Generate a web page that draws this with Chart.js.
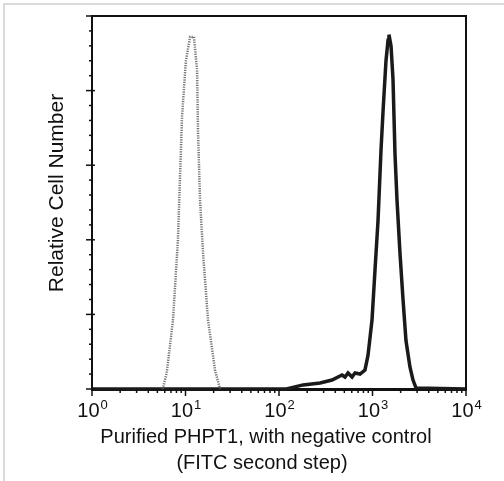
<!DOCTYPE html>
<html>
<head>
<meta charset="utf-8">
<script src="https://cdn.jsdelivr.net/npm/chart.js@4/dist/chart.umd.min.js"></script>
<style>
  body { margin: 0; background: #fff; }
  #wrap { position: relative; width: 504px; height: 481px; overflow: hidden; }
  #frame { position: absolute; left: 3px; top: 3px; right: 0; bottom: 0;
           border-top: 2px solid #dadada; border-left: 2px solid #dadada; }
  #myChart { position: absolute; left: 0; top: 0; }
</style>
</head>
<body>
<div id="wrap">
  <div id="frame"></div>
  <canvas id="myChart" width="504" height="481"></canvas>
</div>
<script>
// negative control (gray dotted) histogram
const controlX = [5.7, 6.3, 7.35, 8.3, 9.18, 10.1, 11.2, 12.3, 13.3, 13.6, 14.3, 15.4, 17.4, 20.7, 23.4];
const controlY = [0, 4.3, 18.5, 40, 73, 88, 94.4, 94.4, 85.5, 69.4, 50.7, 36.5, 18.5, 5, 0];
// purified PHPT1 (black) histogram
const sampleX = [1, 120, 181, 275, 369, 472, 508, 547, 604, 650, 735, 831, 895, 988, 1064, 1145, 1233, 1300, 1394, 1466, 1500, 1578, 1657, 1740, 1828, 1967, 2120, 2280, 2515, 2712, 2917, 10000];
const sampleY = [0, 0, 1.1, 1.6, 2.4, 3.75, 3.2, 4.3, 3.2, 4.3, 4.0, 5.1, 9, 18.5, 32, 45, 64, 75, 88, 93.5, 95, 92, 83, 63, 50.7, 36.5, 24, 13, 5.9, 2.4, 0.3, 0];
const decades = [0, 1, 2, 3, 4];
const xTitle = ["Purified PHPT1, with negative control", "(FITC second step)"];
const yTitle = "Relative Cell Number";

const fontFam = '"Liberation Sans", Arial, sans-serif';

const toPts = (xs, ys) => xs.map((x, i) => ({ x: x, y: ys[i] }));

const decor = {
  id: "decor",
  afterDraw(chart) {
    const c = chart.ctx, a = chart.chartArea;
    const xs = chart.scales.x, ys = chart.scales.y;
    c.save();
    c.strokeStyle = "#111";
    // frame top / right
    c.lineWidth = 2;
    c.beginPath();
    c.moveTo(a.left, a.top); c.lineTo(a.right, a.top); c.lineTo(a.right, a.bottom);
    c.stroke();
    // x ticks, log minor ticks
    c.lineWidth = 1.5;
    for (let d = 0; d < 4; d++) {
      for (let m = 1; m <= 9; m++) {
        const px = xs.getPixelForValue(m * Math.pow(10, d));
        c.beginPath();
        c.moveTo(px, a.bottom);
        c.lineTo(px, a.bottom + (m === 1 ? 7 : 4));
        c.stroke();
      }
    }
    let px4 = xs.getPixelForValue(10000);
    c.beginPath(); c.moveTo(px4, a.bottom); c.lineTo(px4, a.bottom + 7); c.stroke();
    // y ticks
    for (let v = 0; v <= 100; v += 4) {
      const py = ys.getPixelForValue(v);
      const major = v % 20 === 0;
      c.beginPath();
      c.moveTo(a.left - (major ? 6 : 3), py);
      c.lineTo(a.left + (major ? 3 : 1), py);
      c.stroke();
    }
    // x tick labels 10^n
    c.fillStyle = "#111";
    c.textBaseline = "alphabetic";
    c.textAlign = "left";
    decades.forEach(function (n) {
      const px = xs.getPixelForValue(Math.pow(10, n));
      c.font = "20px " + fontFam;
      const w1 = c.measureText("10").width;
      c.font = "13px " + fontFam;
      const w2 = c.measureText(String(n)).width;
      const x0 = px - (w1 + w2) / 2;
      c.font = "20px " + fontFam;
      c.fillText("10", x0, 417);
      c.font = "13px " + fontFam;
      c.fillText(String(n), x0 + w1 + 1, 409);
    });
    // axis titles
    c.font = "20px " + fontFam;
    c.textAlign = "center";
    c.fillText(xTitle[0], 266, 443);
    c.fillText(xTitle[1], 262, 469);
    c.font = "21px " + fontFam;
    c.translate(63, 193);
    c.rotate(-Math.PI / 2);
    c.fillText(yTitle, 0, 0);
    c.restore();
  }
};

let ctx = document.getElementById("myChart").getContext("2d");
let myChart = new Chart(ctx, {
  type: "line",
  data: {
    datasets: [
      {
        label: "negative control",
        data: toPts(controlX, controlY),
        borderColor: "rgba(90,90,90,0.85)",
        borderWidth: 2.5,
        borderDash: [1.2, 1.2],
        pointRadius: 0,
        tension: 0,
        clip: 4,
      },
      {
        label: "PHPT1",
        data: toPts(sampleX, sampleY),
        borderColor: "#1a1a1a",
        borderWidth: 3.5,
        pointRadius: 0,
        tension: 0,
        clip: 4,
      },
    ],
  },
  options: {
    responsive: false,
    animation: false,
    layout: { padding: { top: 16, right: 38, left: 0, bottom: 0 } },
    plugins: { legend: { display: false }, tooltip: { enabled: false } },
    scales: {
      x: {
        type: "logarithmic",
        min: 1,
        max: 10000,
        afterFit: function (s) { s.height = 92; },
        ticks: { display: false },
        grid: { display: false },
        border: { display: true, color: "#111", width: 3 },
      },
      y: {
        min: 0,
        max: 100,
        afterFit: function (s) { s.width = 92; },
        ticks: { display: false },
        grid: { display: false },
        border: { display: true, color: "#111", width: 2 },
      },
    },
  },
  plugins: [decor],
});
</script>
</body>
</html>
